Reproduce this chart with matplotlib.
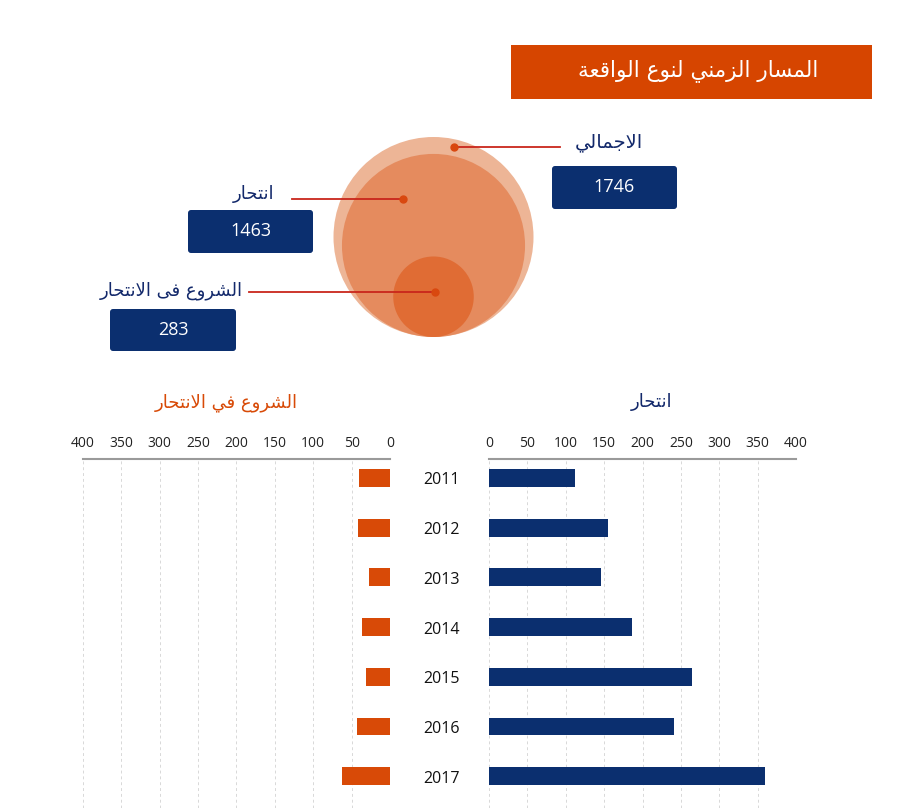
import numpy as np
import matplotlib
matplotlib.use("Agg")
import matplotlib.pyplot as plt
from matplotlib.patches import Circle, Rectangle, FancyBboxPatch
from matplotlib.transforms import blended_transform_factory

# ---------------- data ----------------
years = ["2011", "2012", "2013", "2014", "2015", "2016", "2017"]
suicide = [112, 155, 146, 186, 264, 241, 359]        # انتحار
attempt = [40, 42, 28, 37, 31, 43, 62]               # الشروع في الانتحار
total_value = 1746
suicide_total = 1463
attempt_total = 283
xticks = [0, 50, 100, 150, 200, 250, 300, 350, 400]

title_txt = "المسار الزمني لنوع الواقعة"
lbl_total = "الاجمالي"
lbl_suicide = "انتحار"
lbl_attempt = "الشروع فى الانتحار"
sub_attempt = "الشروع في الانتحار"
sub_suicide = "انتحار"

# ---------------- simple Arabic shaping ----------------
FORMS = {
    '\u0627': ('\uFE8D', '\uFE8E', None, None),
    '\u0628': ('\uFE8F', '\uFE90', '\uFE91', '\uFE92'),
    '\u0629': ('\uFE93', '\uFE94', None, None),
    '\u062A': ('\uFE95', '\uFE96', '\uFE97', '\uFE98'),
    '\u062B': ('\uFE99', '\uFE9A', '\uFE9B', '\uFE9C'),
    '\u062C': ('\uFE9D', '\uFE9E', '\uFE9F', '\uFEA0'),
    '\u062D': ('\uFEA1', '\uFEA2', '\uFEA3', '\uFEA4'),
    '\u062E': ('\uFEA5', '\uFEA6', '\uFEA7', '\uFEA8'),
    '\u062F': ('\uFEA9', '\uFEAA', None, None),
    '\u0630': ('\uFEAB', '\uFEAC', None, None),
    '\u0631': ('\uFEAD', '\uFEAE', None, None),
    '\u0632': ('\uFEAF', '\uFEB0', None, None),
    '\u0633': ('\uFEB1', '\uFEB2', '\uFEB3', '\uFEB4'),
    '\u0634': ('\uFEB5', '\uFEB6', '\uFEB7', '\uFEB8'),
    '\u0635': ('\uFEB9', '\uFEBA', '\uFEBB', '\uFEBC'),
    '\u0636': ('\uFEBD', '\uFEBE', '\uFEBF', '\uFEC0'),
    '\u0637': ('\uFEC1', '\uFEC2', '\uFEC3', '\uFEC4'),
    '\u0638': ('\uFEC5', '\uFEC6', '\uFEC7', '\uFEC8'),
    '\u0639': ('\uFEC9', '\uFECA', '\uFECB', '\uFECC'),
    '\u063A': ('\uFECD', '\uFECE', '\uFECF', '\uFED0'),
    '\u0641': ('\uFED1', '\uFED2', '\uFED3', '\uFED4'),
    '\u0642': ('\uFED5', '\uFED6', '\uFED7', '\uFED8'),
    '\u0643': ('\uFED9', '\uFEDA', '\uFEDB', '\uFEDC'),
    '\u0644': ('\uFEDD', '\uFEDE', '\uFEDF', '\uFEE0'),
    '\u0645': ('\uFEE1', '\uFEE2', '\uFEE3', '\uFEE4'),
    '\u0646': ('\uFEE5', '\uFEE6', '\uFEE7', '\uFEE8'),
    '\u0647': ('\uFEE9', '\uFEEA', '\uFEEB', '\uFEEC'),
    '\u0648': ('\uFEED', '\uFEEE', None, None),
    '\u0649': ('\uFEEF', '\uFEF0', None, None),
    '\u064A': ('\uFEF1', '\uFEF2', '\uFEF3', '\uFEF4'),
}


def shape(text):
    chars = list(text)
    n = len(chars)
    out = []
    dual = lambda c: c in FORMS and FORMS[c][2] is not None
    i = 0
    while i < n:
        c = chars[i]
        if c not in FORMS:
            out.append(c)
            i += 1
            continue
        prev = chars[i - 1] if i > 0 else None
        jp = prev is not None and dual(prev)
        if c == '\u0644' and i + 1 < n and chars[i + 1] == '\u0627':
            out.append('\uFEFC' if jp else '\uFEFB')
            i += 2
            continue
        nxt = chars[i + 1] if i + 1 < n else None
        jn = dual(c) and nxt is not None and nxt in FORMS
        iso, fin, ini, med = FORMS[c]
        if jp and jn:
            g = med
        elif jp:
            g = fin
        elif jn:
            g = ini
        else:
            g = iso
        out.append(g)
        i += 1
    return ''.join(reversed(out))


AR = ['DejaVu Sans']
NUM = ['Open Sans', 'DejaVu Sans']

NAVY = '#0B2F6F'
TXT_NAVY = '#13296B'
ORANGE = '#D84A07'
TITLE_BG = '#D64500'
LINE_RED = '#C9261B'
DOT = '#D9480F'
C_OUT = '#EDB596'
C_MID = '#E58B5E'
C_IN = '#E06C34'

fig = plt.figure(figsize=(9, 8.08), dpi=100)
fig.patch.set_facecolor('white')

# overlay axes in pixel units
ax0 = fig.add_axes([0, 0, 1, 1])
ax0.set_xlim(0, 900)
ax0.set_ylim(808, 0)
ax0.axis('off')

# title box
ax0.add_patch(Rectangle((511, 45), 361, 54, facecolor=TITLE_BG, edgecolor='none'))
ax0.text(698, 71, shape(title_txt), color='white', fontsize=15.5, family=AR,
         ha='center', va='center')

# nested circles (area proportional to value)
R0 = 100.0
cx, base_y = 433.5, 337.0
for v, col in [(total_value, C_OUT), (suicide_total, C_MID), (attempt_total, C_IN)]:
    r = R0 * np.sqrt(v / total_value)
    ax0.add_patch(Circle((cx, base_y - r), r, facecolor=col, edgecolor='none'))

# annotations
def callout(dot, x_end, label, lx, ly, val, box, fs):
    ax0.plot([dot[0], x_end], [dot[1], dot[1]], color=LINE_RED, lw=1.3, zorder=3)
    ax0.plot([dot[0]], [dot[1]], 'o', color=DOT, ms=5, zorder=4)
    ax0.text(lx, ly, shape(label), color=TXT_NAVY, fontsize=fs, family=AR,
             ha='center', va='center')
    bx, by, bw, bh = box
    ax0.add_patch(FancyBboxPatch((bx, by), bw, bh,
                                 boxstyle='round,pad=0,rounding_size=3',
                                 facecolor=NAVY, edgecolor='none'))
    ax0.text(bx + bw / 2, by + bh / 2, f"{val}", color='white', fontsize=13,
             family=NUM, ha='center', va='center')

callout((454, 147), 560, lbl_total, 609, 143, total_value, (552, 166, 125, 43), 14)
callout((403, 199), 292, lbl_suicide, 254, 194, suicide_total, (188, 210, 125, 43), 13)
callout((435, 292), 249, lbl_attempt, 171, 291, attempt_total, (110, 309, 126, 42), 13)

# subtitles of bar panels
ax0.text(226, 403, shape(sub_attempt), color=ORANGE, fontsize=13, family=AR,
         ha='center', va='center')
ax0.text(652, 402, shape(sub_suicide), color=TXT_NAVY, fontsize=13, family=AR,
         ha='center', va='center')

# ---------------- bar panels ----------------
top_px, bot_px = 459, 808
step = 49.7
first_c = 478
y_top = -(first_c - top_px) / step
y_bot = (len(years) - 1) + (bot_px - (first_c + step * (len(years) - 1))) / step

def panel(left_px, values, color, invert):
    ax = fig.add_axes([left_px / 900, 0, 307 / 900, (bot_px - top_px) / 808])
    ax.set_facecolor('none')
    ypos = np.arange(len(years))
    ax.barh(ypos, values, height=0.36, color=color, zorder=3)
    if invert:
        ax.set_xlim(400, 0)
    else:
        ax.set_xlim(0, 400)
    ax.set_ylim(y_bot, y_top)
    ax.set_xticks(xticks)
    ax.xaxis.tick_top()
    ax.tick_params(axis='x', length=0, pad=6, labelsize=10, colors='#222222')
    for lab in ax.get_xticklabels():
        lab.set_family(NUM)
    ax.set_yticks([])
    for s in ['left', 'right', 'bottom']:
        ax.spines[s].set_visible(False)
    ax.spines['top'].set_color('#9A9A9A')
    ax.spines['top'].set_linewidth(1.5)
    ax.grid(axis='x', color='#D8D8D8', linestyle=(0, (3, 3)), linewidth=0.7, zorder=0)
    ax.set_axisbelow(True)
    return ax

axL = panel(83, attempt, ORANGE, True)
axR = panel(489, suicide, NAVY, False)

tr = blended_transform_factory(ax0.transData, axR.transData)
for i, y in enumerate(years):
    axR.text(441, i + 0.05, y, transform=tr, ha='center', va='center',
             fontsize=11.5, family=NUM, color='#111111')

fig.savefig('out.png', dpi=100, facecolor='white')
